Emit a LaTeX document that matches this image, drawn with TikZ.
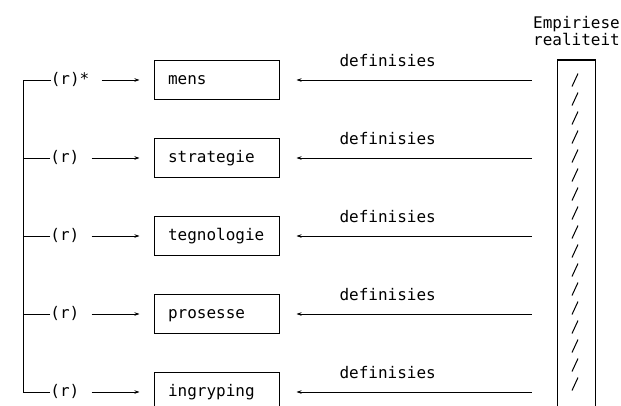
\documentclass[tikz,border=0pt]{standalone}
\usepackage{fontspec}
\setmonofont{DejaVu Sans Mono}
\usepackage{tikz}
\usetikzlibrary{positioning,arrows.meta}
\tikzset{box node/.style={draw,line width=1pt,text width=97pt,inner xsep=14pt,align=left,minimum height=39pt,text height=12pt,text depth=4pt},
	r node/.style={inner sep=0pt,text height=12pt,text depth=4pt},
	r arrow/.style={draw,line width=0.9pt,-{Stealth[length=5pt,width=3.5pt]},shorten <=12pt,shorten >=14pt},
	def arrow/.style={draw,line width=0.9pt,-{Stealth[length=5pt,width=3.5pt]},shorten <=25pt,shorten >=17pt},
	def label/.style={above=13pt,inner sep=0pt},
	real node/.style={draw,line width=1.2pt,minimum width=38pt,minimum height=350pt,inner sep=0pt},
	slash/.style={draw,line width=1pt},}

\begin{document}
\begin{tikzpicture}[x=1pt,y=-1pt,font=\fontsize{16}{17}\selectfont\ttfamily]
	\useasboundingbox (0,0) rectangle (621,405);

	\node[box node] (1) at (216.5,80) {mens};
	\node[box node] (2) [below = 38pt of 1] {strategie};
	\node[box node] (3) [below = 38pt of 2] {tegnologie};
	\node[box node] (4) [below = 38pt of 3] {prosesse};
	\node[box node] (5) [below = 38pt of 4] {ingryping};

	\node[r node] (r1) [left = 64pt of 1] {(r)*};
	\node[r node] (r2) [left = 74pt of 2] {(r)};
	\node[r node] (r3) [left = 74pt of 3] {(r)};
	\node[r node] (r4) [left = 74pt of 4] {(r)};
	\node[r node] (r5) [left = 74pt of 5] {(r)};

	\node[real node] (real) at (576.5,235) {};
	\node[align=center,inner sep=0pt] (title) [above = 13pt of real] {Empiriese\\realiteit};

	% bracket on the left
	\coordinate (spine) at (23,80);
	\draw[line width=0.9pt] (r1.west) -- (spine) |- (r5.west);
	\draw[line width=0.9pt] (r2.west) -- (r2.west -| spine);
	\draw[line width=0.9pt] (r3.west) -- (r3.west -| spine);
	\draw[line width=0.9pt] (r4.west) -- (r4.west -| spine);

	\path[r arrow]
	(r1) edge (1)
	(r2) edge (2)
	(r3) edge (3)
	(r4) edge (4)
	(r5) edge (5)
	;

	\path[def arrow] (real.west |- 1) -- (1.east) node[def label,pos=0.61] {definisies};
	\path[def arrow] (real.west |- 2) -- (2.east) node[def label,pos=0.61] {definisies};
	\path[def arrow] (real.west |- 3) -- (3.east) node[def label,pos=0.61] {definisies};
	\path[def arrow] (real.west |- 4) -- (4.east) node[def label,pos=0.61] {definisies};
	\path[def arrow] (real.west |- 5) -- (5.east) node[def label,pos=0.61] {definisies};

	% hatching inside the reality column
	\foreach \i in {0,...,16}
		\draw[slash] (572,80+19*\i+6.5) -- ++(6,-13);
\end{tikzpicture}
\end{document}
